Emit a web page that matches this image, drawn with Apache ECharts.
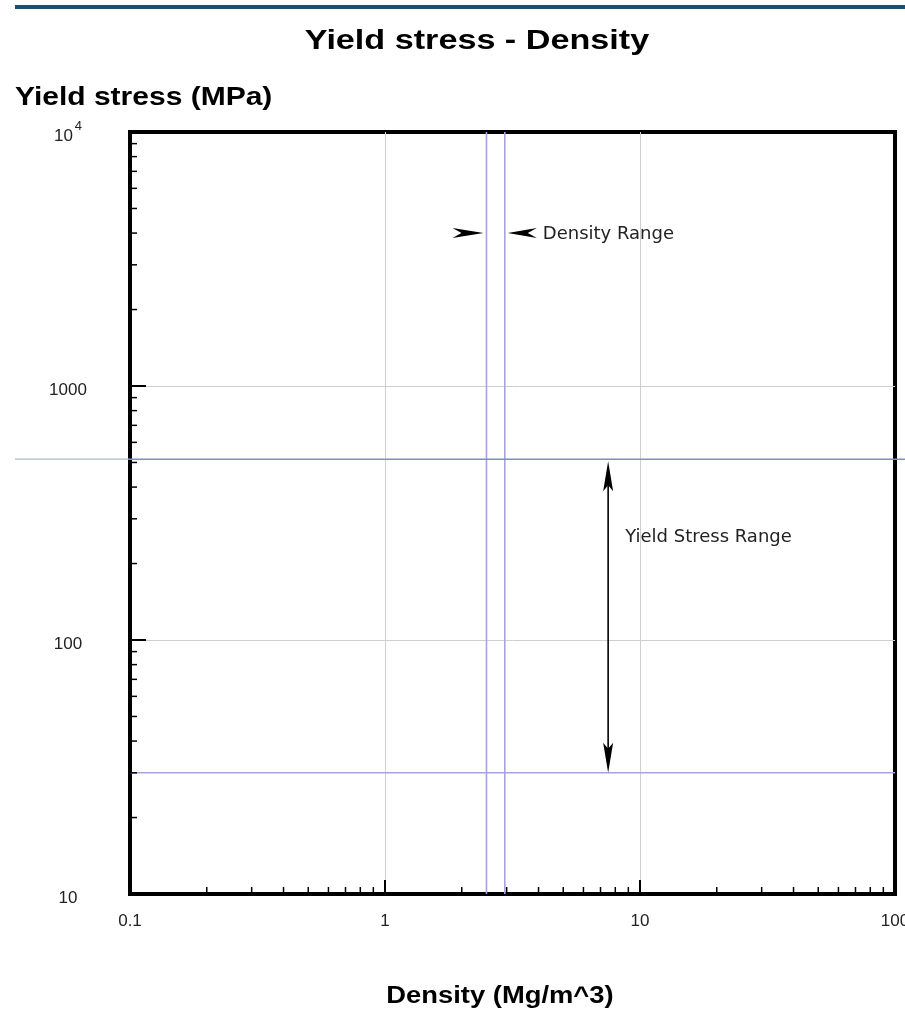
<!DOCTYPE html>
<html>
<head>
<meta charset="utf-8">
<script src="https://cdn.jsdelivr.net/npm/echarts@6/dist/echarts.min.js"></script>
<style>
  html, body { margin: 0; padding: 0; background: #fff; }
  #chart { width: 905px; height: 1023px; }
</style>
</head>
<body>
<div id="chart"></div>
<script>
// Axis ranges (log scales)
const xMin = 0.1, xMax = 100;
const yMin = 10, yMax = 10000;

// Tick labels
const xTickValues = [0.1, 1, 10, 100];
const xTickLabels = ['0.1', '1', '10', '100'];
const yTickValues = [10, 100, 1000, 10000];
const yTickLabels = ['10', '100', '1000', '10^4'];

// Selection ranges
const densityRange = [2.5, 2.95];   // Mg/m^3
const yieldRange = [30, 515];       // MPa

// Annotation anchors
const densityArrowY = 4000;         // MPa level of the density arrows
const yieldArrowX = 7.5;            // density at which the yield arrow sits

const densityLabel = 'Density Range';
const yieldLabel = 'Yield Stress Range';

// Minor tick values within each decade (2..9 x decade)
function minorTicks(lo, hi) {
  const out = [];
  for (let d = lo; d < hi * 0.999; d *= 10) {
    for (let k = 2; k <= 9; k++) out.push(+(d * k).toPrecision(6));
  }
  return out;
}
const xMinor = minorTicks(xMin, xMax);
const yMinor = minorTicks(yMin, yMax);

const lavender = '#a5a5dc';
const steel = '#7d90bd';
const tickFont = '"Liberation Sans", Arial, sans-serif';
const noteFont = '"DejaVu Sans", "Liberation Sans", Arial, sans-serif';

const chart = echarts.init(document.getElementById('chart'), null, { renderer: 'canvas' });

function labelFor(values, labels, v) {
  for (let i = 0; i < values.length; i++) {
    if (Math.abs(Math.log10(values[i]) - Math.log10(v)) < 1e-6) return labels[i];
  }
  return '';
}

function richLabel(s) {
  const p = s.split('^');
  return p.length === 2 ? '{b|' + p[0] + '}{sup|' + p[1] + '}' : '{b|' + s + '}';
}

const option = {
  animation: false,
  backgroundColor: '#fff',
  grid: {
    left: 130, right: 10, top: 132, bottom: 129,
    outerBoundsMode: 'none', containLabel: false,
    show: true, borderColor: '#000', borderWidth: 4, backgroundColor: 'transparent'
  },
  xAxis: {
    type: 'log', logBase: 10, min: xMin, max: xMax,
    axisLine: { show: true, lineStyle: { color: '#000', width: 4 } },
    axisTick: { show: true, inside: true, length: 14, lineStyle: { color: '#000', width: 2 } },
    splitLine: { show: true, showMinLine: false, showMaxLine: false, lineStyle: { color: '#cfcfcf', width: 1 } },
    axisLabel: {
      margin: 19, fontSize: 17, color: '#222', fontFamily: tickFont,
      showMinLabel: true, showMaxLabel: true,
      formatter: v => labelFor(xTickValues, xTickLabels, v)
    }
  },
  yAxis: {
    type: 'log', logBase: 10, min: yMin, max: yMax,
    axisLine: { show: true, lineStyle: { color: '#000', width: 4 } },
    axisTick: { show: true, inside: true, length: 16, lineStyle: { color: '#000', width: 2 } },
    splitLine: { show: true, showMinLine: false, showMaxLine: false, lineStyle: { color: '#cfcfcf', width: 1 } },
    axisLabel: {
      margin: 62, align: 'center', color: '#222',
      showMinLabel: true, showMaxLabel: true,
      formatter: v => richLabel(labelFor(yTickValues, yTickLabels, v)),
      rich: {
        b: { fontSize: 17, color: '#222', fontFamily: tickFont, padding: [8, 0, 0, 0] },
        sup: { fontSize: 13, color: '#222', fontFamily: tickFont, verticalAlign: 'top', padding: [0, 0, 8, 2] }
      }
    }
  },
  graphic: [
    { type: 'rect', shape: { x: 15, y: 5, width: 890, height: 4 }, style: { fill: '#1f4d6d' } },
    { type: 'text', x: 477, y: 41, scaleX: 1.22,
      style: { text: 'Yield stress - Density', textAlign: 'center', textVerticalAlign: 'middle',
               font: 'bold 28px "Liberation Sans", Arial, sans-serif', fill: '#000' } },
    { type: 'text', x: 15, y: 98, scaleX: 1.2,
      style: { text: 'Yield stress (MPa)', textAlign: 'left', textVerticalAlign: 'middle',
               font: 'bold 25px "Liberation Sans", Arial, sans-serif', fill: '#000' } },
    { type: 'text', x: 500, y: 996, scaleX: 1.14,
      style: { text: 'Density (Mg/m^3)', textAlign: 'center', textVerticalAlign: 'middle',
               font: 'bold 24px "Liberation Sans", Arial, sans-serif', fill: '#000' } }
  ],
  series: [
    // Minor ticks along the density axis
    {
      type: 'custom', coordinateSystem: 'cartesian2d', silent: true, z: 5,
      data: xMinor.map(v => [v, yMin]),
      renderItem: (params, api) => {
        const p = api.coord([api.value(0), yMin]);
        return { type: 'line', shape: { x1: p[0], y1: p[1], x2: p[0], y2: p[1] - 7 },
                 style: { stroke: '#000', lineWidth: 1.5 } };
      }
    },
    // Minor ticks along the yield stress axis
    {
      type: 'custom', coordinateSystem: 'cartesian2d', silent: true, z: 5,
      data: yMinor.map(v => [xMin, v]),
      renderItem: (params, api) => {
        const p = api.coord([xMin, api.value(1)]);
        return { type: 'line', shape: { x1: p[0], y1: p[1], x2: p[0] + 7, y2: p[1] },
                 style: { stroke: '#000', lineWidth: 1.5 } };
      }
    },
    // Density range boundaries
    {
      type: 'custom', coordinateSystem: 'cartesian2d', silent: true, z: 3,
      data: densityRange.map(v => [v, yMin]),
      renderItem: (params, api) => {
        const x = api.coord([api.value(0), yMin])[0];
        const top = api.coord([xMin, yMax])[1];
        const bot = api.coord([xMin, yMin])[1];
        return { type: 'line', shape: { x1: x, y1: top, x2: x, y2: bot },
                 style: { stroke: lavender, lineWidth: 1.6 } };
      }
    },
    // Yield stress range boundaries (upper one runs across the whole width)
    {
      type: 'custom', coordinateSystem: 'cartesian2d', silent: true, z: 3, clip: false,
      data: yieldRange.map(v => [xMin, v]),
      renderItem: (params, api) => {
        const y = api.coord([xMin, api.value(1)])[1];
        const left = api.coord([xMin, yMin])[0];
        const right = api.coord([xMax, yMin])[0];
        if (params.dataIndex === 1) {
          return { type: 'group', children: [
            { type: 'line', shape: { x1: 15, y1: y, x2: left, y2: y }, style: { stroke: '#a9bccd', lineWidth: 1.3 } },
            { type: 'line', shape: { x1: left, y1: y, x2: 905, y2: y }, style: { stroke: steel, lineWidth: 1.5 } }
          ] };
        }
        return { type: 'line', shape: { x1: left, y1: y, x2: right, y2: y },
                 style: { stroke: lavender, lineWidth: 1.6 } };
      }
    },
    // Density range arrows and label
    {
      type: 'custom', coordinateSystem: 'cartesian2d', silent: true, z: 6,
      data: [[densityRange[0], densityArrowY]],
      renderItem: (params, api) => {
        const y = api.coord([xMin, densityArrowY])[1];
        const xl = api.coord([densityRange[0], densityArrowY])[0] - 3;
        const xr = api.coord([densityRange[1], densityArrowY])[0] + 3;
        return { type: 'group', children: [
          { type: 'polygon', shape: { points: [[xl, y], [xl - 31, y - 5], [xl - 22, y], [xl - 31, y + 5]] },
            style: { fill: '#000' } },
          { type: 'polygon', shape: { points: [[xr, y], [xr + 29, y - 5], [xr + 20, y], [xr + 29, y + 5]] },
            style: { fill: '#000' } },
          { type: 'text', x: xr + 35, y: y + 1,
            style: { text: densityLabel, textAlign: 'left', textVerticalAlign: 'middle',
                     font: '18px ' + noteFont, fill: '#222' } }
        ] };
      }
    },
    // Yield stress range double arrow and label
    {
      type: 'custom', coordinateSystem: 'cartesian2d', silent: true, z: 6,
      data: [[yieldArrowX, yieldRange[0]]],
      renderItem: (params, api) => {
        const x = api.coord([yieldArrowX, yMin])[0];
        const yb = api.coord([yieldArrowX, yieldRange[0]])[1];
        const yt = api.coord([yieldArrowX, yieldRange[1]])[1] + 2;
        return { type: 'group', children: [
          { type: 'line', shape: { x1: x, y1: yt + 10, x2: x, y2: yb - 10 }, style: { stroke: '#000', lineWidth: 1.6 } },
          { type: 'polygon', shape: { points: [[x, yt], [x - 5, yt + 30], [x, yt + 24], [x + 5, yt + 30]] },
            style: { fill: '#000' } },
          { type: 'polygon', shape: { points: [[x, yb], [x - 5, yb - 30], [x, yb - 24], [x + 5, yb - 30]] },
            style: { fill: '#000' } },
          { type: 'text', x: x + 17, y: yt + 76,
            style: { text: yieldLabel, textAlign: 'left', textVerticalAlign: 'middle',
                     font: '18px ' + noteFont, fill: '#222' } }
        ] };
      }
    }
  ]
};

chart.setOption(option);
</script>
</body>
</html>
